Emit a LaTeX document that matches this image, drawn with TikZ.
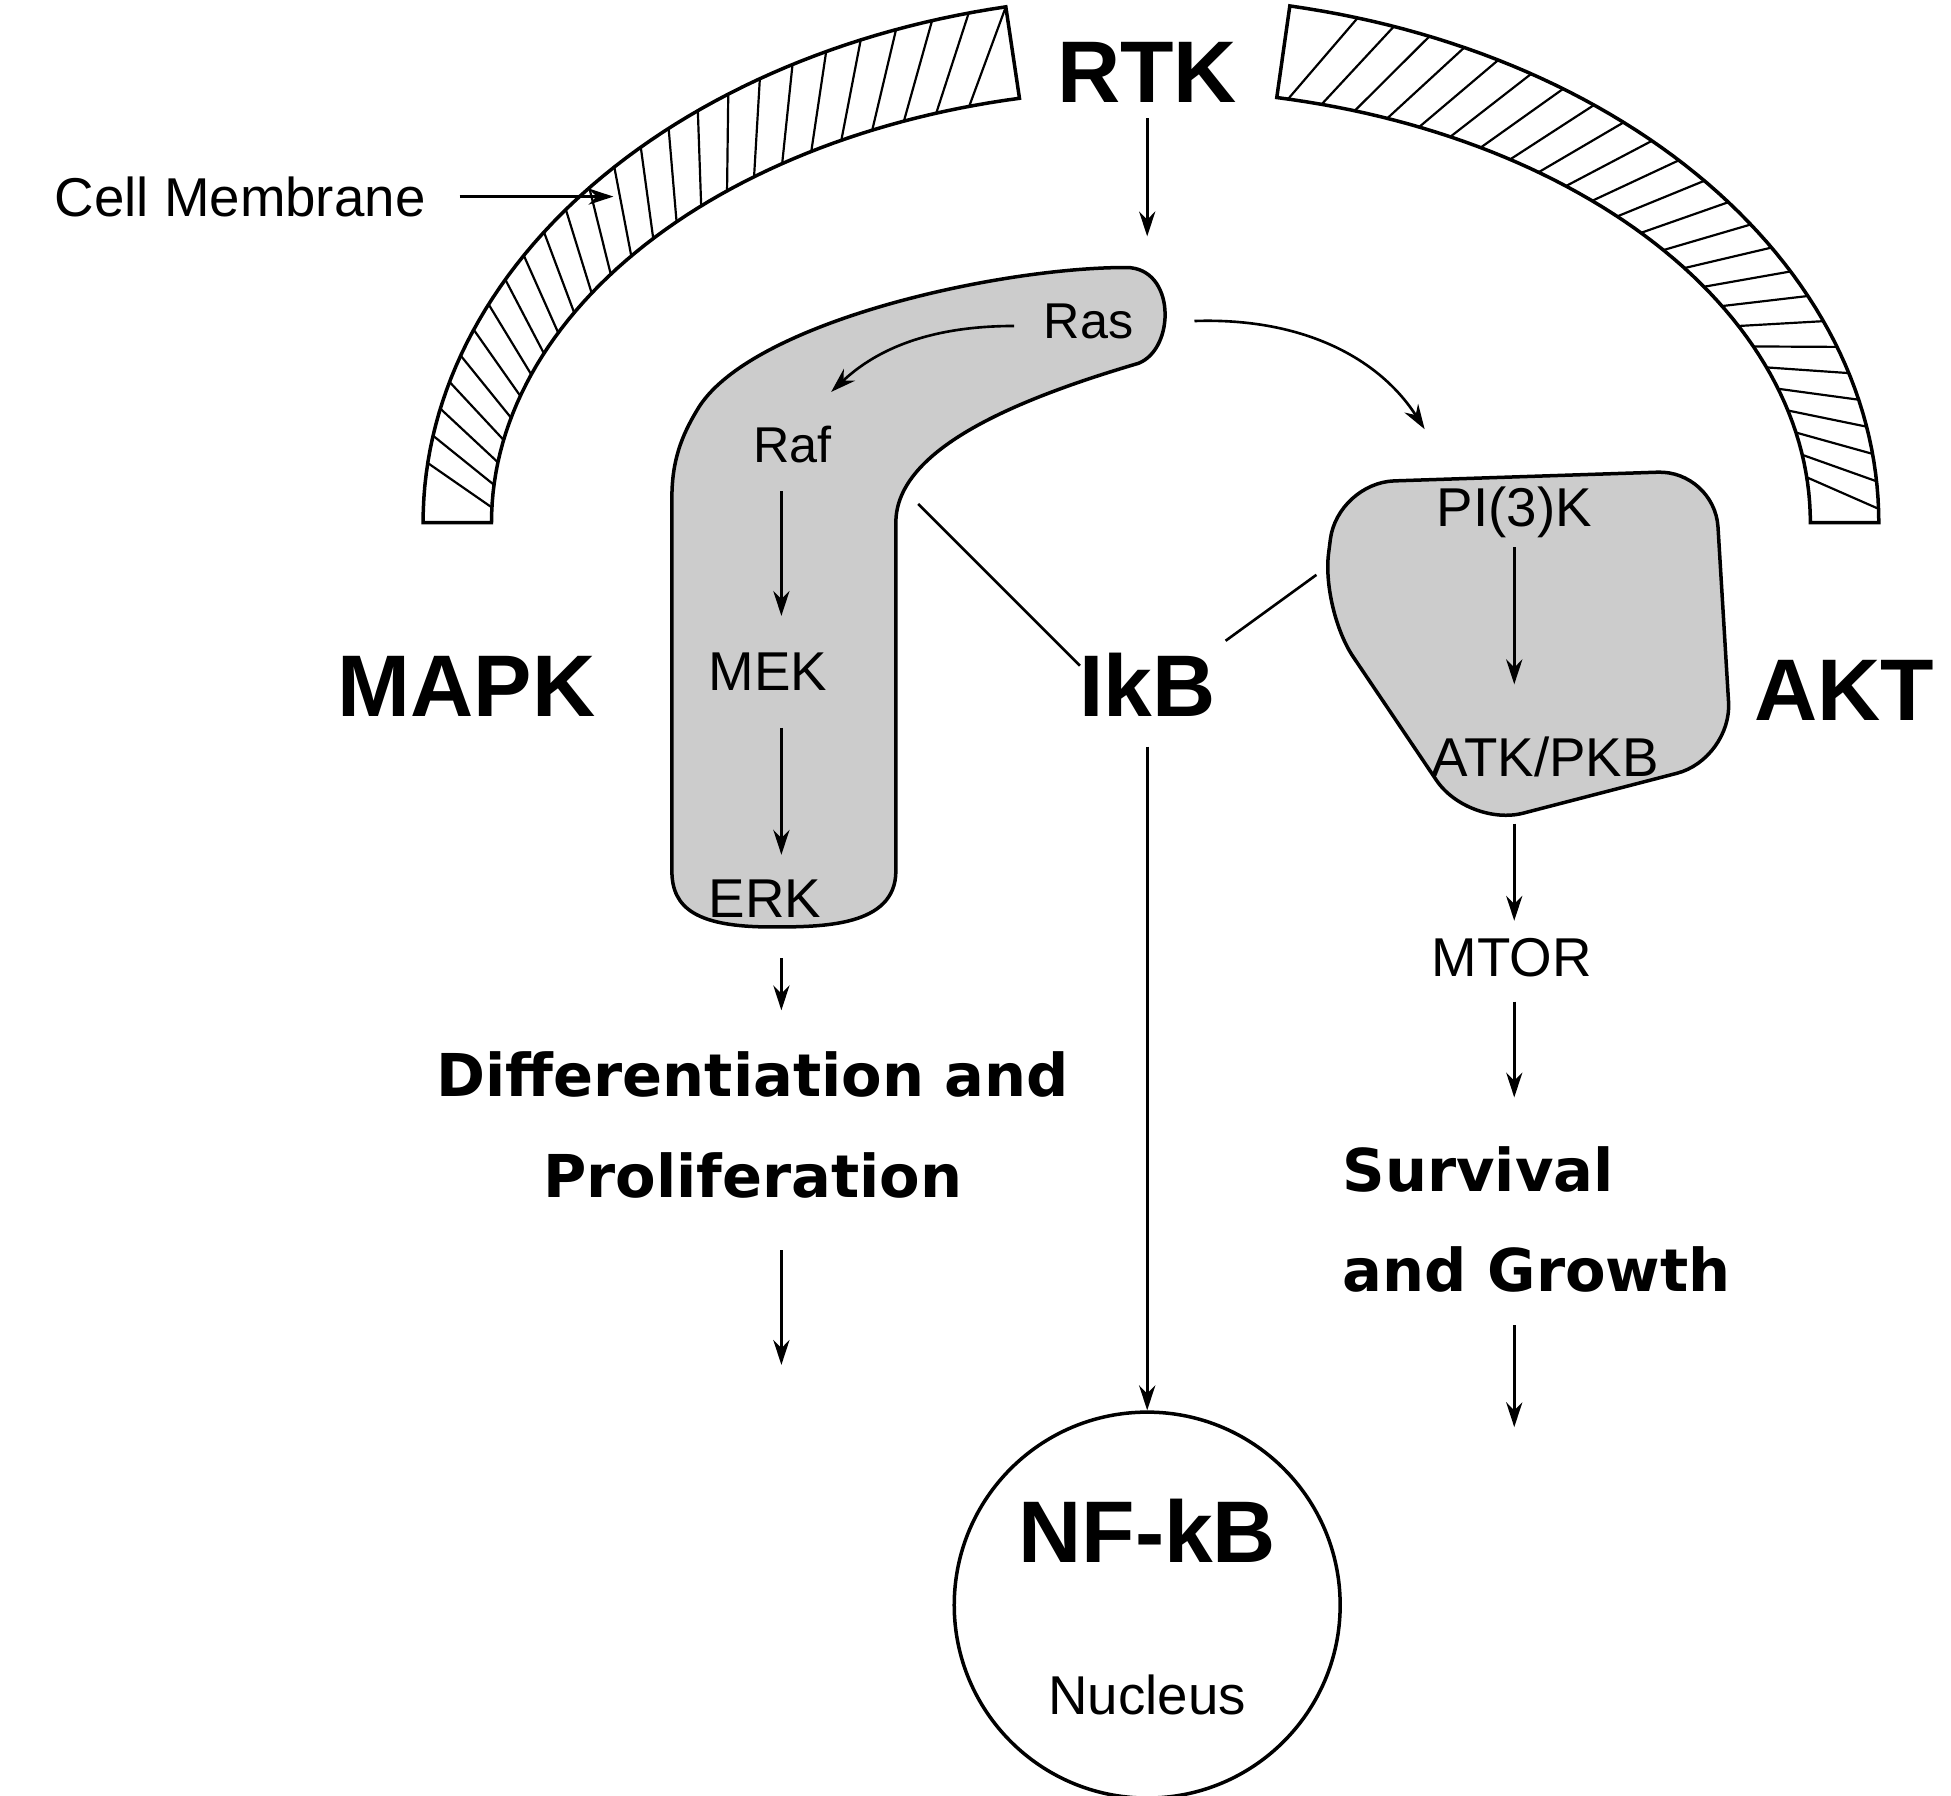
\documentclass[tikz,border=0pt]{standalone}
\usepackage{fontspec}
\setmainfont{Liberation Sans}
\newfontfamily\vb{DejaVu Sans}
\usetikzlibrary{arrows.meta}
\begin{document}
\begin{tikzpicture}[x=0.01cm,y=-0.01cm,
  ar/.style={-{Stealth[length=0.2cm,width=0.13cm]},line width=0.6pt},
  big/.style={font=\fontsize{20}{24}\selectfont\bfseries},
  mid/.style={font=\fontsize{11.5}{14}\selectfont},
  lab/.style={font=\fontsize{12.5}{15}\selectfont},
  res/.style={font=\vb\fontsize{13.5}{17}\selectfont\bfseries},
  blob/.style={draw,line width=0.8pt,fill=gray!40}]
\useasboundingbox (0,0) rectangle (1568,1443);
% membrane
\foreach \a/\b in {180/101.5,79/0}{
  \draw[line width=0.8pt,fill=white] plot[domain=\a:\b,samples=60,variable=\t] ({925+585*cos(\t)},{420-423*sin(\t)})
    -- plot[domain=\b:\a,samples=60,variable=\t] ({925+530*cos(\t)},{420-348*sin(\t)}) -- cycle;}
\foreach \t in {106,109,...,178}{
  \draw[line width=0.5pt] ({925+530*cos(\t)},{420-348*sin(\t)}) -- ({925+585*cos(\t-4.5)},{420-423*sin(\t-4.5)});}
\foreach \t in {6,9,...,78}{
  \draw[line width=0.5pt] ({925+530*cos(\t)},{420-348*sin(\t)}) -- ({925+585*cos(\t-4.5)},{420-423*sin(\t-4.5)});}
% blobs
\draw[blob] (560,330) .. controls (600,260) and (800,215) .. (905,215)
  .. controls (945,215) and (945,280) .. (915,292)
  .. controls (820,320) and (720,360) .. (720,420)
  -- (720,700) .. controls (720,745) and (660,745) .. (620,745)
  .. controls (560,745) and (540,730) .. (540,700)
  -- (540,400) .. controls (540,370) and (548,350) .. (560,330) -- cycle;
\draw[blob,rounded corners=13pt] (1075,388) -- (1378,378) -- (1392,610) -- (1180,665) -- (1062,490) -- cycle;
% nodes
\node[big] (rtk) at (922,58) {RTK};
\node[lab] (cm) at (193,158) {Cell Membrane};
\coordinate (cme) at (493,158);
\coordinate (rtkb) at (922,190);
\node[mid] (ras) at (875,258) {Ras};
\node[mid] (raf) at (637,357) {Raf};
\node[lab] (mek) at (617,540) {MEK};
\node[lab] (erk) at (615,722) {ERK};
\node[big] (mapk) at (375,552) {MAPK};
\node[big] (ikb) at (922,550) {IkB};
\node[big] (akt) at (1482,555) {AKT};
\node[lab] (pi3k) at (1217,412) {PI(3)K};
\node[lab] (atk) at (1242,608) {ATK/PKB};
\node[lab] (mtor) at (1215,770) {MTOR};
\node[res,align=center] (diff) at (605,904) {Differentiation and\\[6pt]Proliferation};
\node[res,align=left] (surv) at (1235,980) {Survival\\[6pt]and Growth};
\node[draw,circle,line width=0.8pt,minimum size=3.1cm,inner sep=0] (nuc) at (922,1290) {};
\node[big] (nfkb) at (922,1230) {NF-kB};
\node[lab] (nu) at (922,1362) {Nucleus};
% arrows
\draw[ar] (cm.east)++(15,0) -- (cme);
\draw[ar] (922,95) -- (rtkb);
\draw[ar] (815,262) .. controls (740,262) and (700,285) .. (668,315);
\draw[ar] (960,258) .. controls (1050,255) and (1110,290) .. (1145,345);
\draw[ar] (628,395) -- (628,495);
\draw[ar] (628,585) -- (628,687);
\draw[ar] (628,770) -- (628,812);
\draw[ar] (628,1005) -- (628,1097);
\draw[line width=0.6pt] (738,405) -- (868,535);
\draw[line width=0.6pt] (985,515) -- (1058,462);
\draw[ar] (922,600) -- (nuc.north);
\draw[ar] (1217,440) -- (1217,550);
\draw[ar] (1217,662) -- (1217,740);
\draw[ar] (1217,805) -- (1217,882);
\draw[ar] (1217,1065) -- (1217,1147);
\end{tikzpicture}
\end{document}
